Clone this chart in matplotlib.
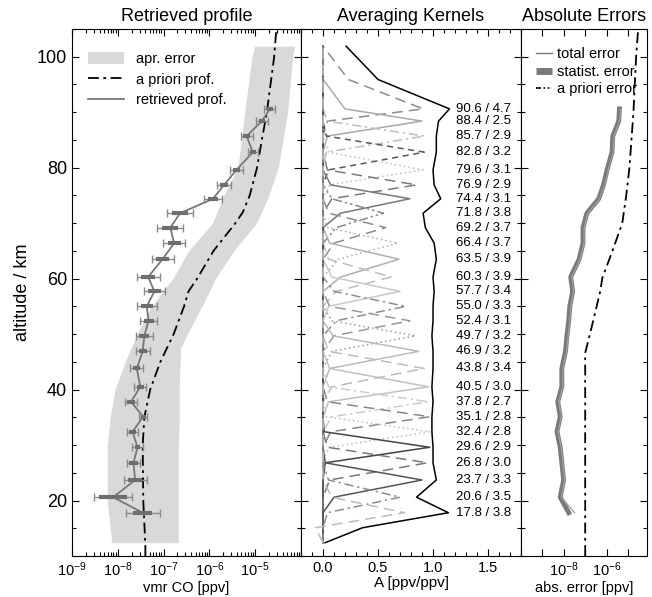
import numpy as np
import matplotlib
matplotlib.use("Agg")
import matplotlib.pyplot as plt
from matplotlib.patches import Patch
from matplotlib.lines import Line2D
from matplotlib.ticker import LogLocator, NullLocator, MultipleLocator, NullFormatter

plt.rcParams["font.family"] = ["Liberation Sans", "DejaVu Sans"]
plt.rcParams["mathtext.fontset"] = "custom"
plt.rcParams["mathtext.rm"] = "Liberation Sans"
plt.rcParams["mathtext.it"] = "Liberation Sans:italic"
plt.rcParams["mathtext.bf"] = "Liberation Sans:bold"

# ---- retrieval levels (top -> bottom) and vertical resolution
alt = [90.6, 88.4, 85.7, 82.8, 79.6, 76.9, 74.4, 71.8, 69.2, 66.4, 63.5, 60.3, 57.7, 55.0,
       52.4, 49.7, 46.9, 43.8, 40.5, 37.8, 35.1, 32.4, 29.6, 26.8, 23.7, 20.6, 17.8]
res = [4.7, 2.5, 2.9, 3.2, 3.1, 2.9, 3.1, 3.8, 3.7, 3.7, 3.9, 3.9, 3.4, 3.3,
       3.1, 3.2, 3.2, 3.4, 3.0, 2.7, 2.8, 2.8, 2.9, 3.0, 3.3, 3.5, 3.8]

# retrieved CO vmr [ppv]
ret_vmr = [2.1e-5, 1.4e-5, 6.5e-6, 8.9e-6, 3.9e-6, 2.1e-6, 1.2e-6, 2.3e-7, 1.4e-7, 1.7e-7,
           9.5e-8, 4.6e-8, 6.3e-8, 4.3e-8, 4.7e-8, 3.8e-8, 3.5e-8, 2.6e-8, 3.1e-8, 1.95e-8,
           3.6e-8, 2.1e-8, 2.7e-8, 2.2e-8, 2.4e-8, 7.9e-9, 3.5e-8]
# error bar half widths in decades (thin = total, thick = statistical)
bar_tot = [0.12, 0.13, 0.13, 0.11, 0.14, 0.16, 0.19, 0.29, 0.28, 0.24, 0.24, 0.25, 0.23, 0.22,
           0.18, 0.19, 0.15, 0.14, 0.13, 0.14, 0.09, 0.12, 0.11, 0.15, 0.25, 0.41, 0.37]
bar_stat = [0.06, 0.07, 0.07, 0.06, 0.08, 0.09, 0.11, 0.18, 0.17, 0.14, 0.14, 0.15, 0.14, 0.13,
            0.11, 0.11, 0.09, 0.08, 0.08, 0.08, 0.05, 0.07, 0.06, 0.09, 0.15, 0.30, 0.21]

# a priori profile
apr_alt = [10, 12, 20, 30, 35, 40, 45, 50, 55, 57.7, 60, 65, 70, 72, 75, 80, 85, 90, 100, 105]
apr_vmr = [4.0e-8, 4.0e-8, 3.6e-8, 3.5e-8, 3.8e-8, 5.1e-8, 8.5e-8, 1.66e-7, 2.8e-7, 3.5e-7,
           5.4e-7, 1.23e-6, 3.7e-6, 5.4e-6, 7.6e-6, 1.1e-5, 1.4e-5, 1.8e-5, 2.6e-5, 2.9e-5]

# a priori error band
band_alt = [12.4, 20, 30, 35, 40, 45, 47.5, 50, 55, 57.7, 60, 65, 70, 74.4, 80, 90, 100, 101.9]
band_lo = [7.4e-9, 5.9e-9, 5.9e-9, 6.8e-9, 8.7e-9, 1.45e-8, 1.95e-8, 2.6e-8, 5.5e-8, 9.5e-8,
           1.6e-7, 3.5e-7, 1.17e-6, 1.9e-6, 4.2e-6, 5.9e-6, 8.5e-6, 9.8e-6]
band_hi = [2.1e-7, 2.1e-7, 2.1e-7, 2.2e-7, 2.2e-7, 2.3e-7, 2.35e-7, 3.3e-7, 6.9e-7, 1.0e-6,
           1.35e-6, 3.4e-6, 1.07e-5, 1.86e-5, 3.2e-5, 5.1e-5, 6.6e-5, 7.2e-5]

# averaging kernel grid (bottom -> top) and measurement response (black line)
grid = [12.4, 15.1, 17.8, 20.6, 23.7, 26.8, 29.6, 32.4, 35.1, 37.8, 40.5, 43.8, 46.9, 49.7,
        52.4, 55.0, 57.7, 60.3, 63.5, 66.4, 69.2, 71.8, 74.4, 76.9, 79.6, 82.8, 85.7, 88.4,
        90.6, 95.9, 101.9]
response = [0.02, 0.36, 1.14, 0.85, 1.03, 1.00, 1.00, 0.99, 0.99, 1.00, 0.99, 1.00, 1.00, 0.99,
            1.00, 1.00, 1.01, 1.00, 1.03, 1.01, 0.93, 0.91, 1.07, 1.01, 1.00, 1.03, 1.03, 1.05,
            1.15, 0.50, 0.21]
# kernel values at own level, level above and level below (top -> bottom, as alt)
k_peak = [0.91, 0.90, 0.92, 0.92, 0.91, 0.85, 0.79, 0.55, 0.57, 0.68, 0.69, 0.62, 0.70, 0.75,
          0.79, 0.84, 0.87, 0.92, 0.96, 0.96, 0.97, 0.97, 0.97, 0.95, 0.90, 0.70, 0.74]
k_above = [0.23, 0.20, 0.04, 0.03, 0.05, 0.04, 0.07, 0.08, 0.05, 0.04, 0.06, 0.05, 0.08, 0.10,
           0.06, 0.08, 0.09, 0.05, 0.06, 0.05, 0.04, 0.03, 0.01, 0.04, 0.02, 0.05, 0.08]
k_below = [0.04, 0.04, 0.03, 0.05, 0.06, 0.08, 0.16, 0.12, 0.10, 0.14, 0.16, 0.12, 0.05, 0.12,
           0.10, 0.08, 0.06, 0.08, 0.05, 0.08, 0.07, 0.05, 0.02, 0.06, 0.10, 0.04, -0.07]

# absolute errors [ppv]
err_stat = [4.0e-6, 3.7e-6, 1.95e-6, 1.8e-6, 1.05e-6, 7.2e-7, 4.3e-7, 1.2e-7, 7.9e-8, 7.9e-8,
            5.2e-8, 2.1e-8, 2.6e-8, 1.9e-8, 1.7e-8, 1.4e-8, 1.2e-8, 8.1e-9, 8.1e-9, 5.2e-9,
            6.8e-9, 4.8e-9, 6.8e-9, 8.1e-9, 9.8e-9, 6.8e-9, 1.7e-8]
err_tot = [4.6e-6, 4.1e-6, 2.2e-6, 2.0e-6, 1.2e-6, 8.0e-7, 4.8e-7, 1.35e-7, 8.9e-8, 8.9e-8,
           5.8e-8, 2.35e-8, 2.9e-8, 2.1e-8, 1.9e-8, 1.6e-8, 1.35e-8, 9.1e-9, 9.1e-9, 5.8e-9,
           7.6e-9, 5.4e-9, 7.6e-9, 9.1e-9, 1.1e-8, 7.6e-9, 3.2e-8]
aerr_alt = [10, 46.6, 51.9, 57.8, 60.1, 64.8, 70, 75, 80, 90, 100, 105]
aerr_val = [1.0e-7, 1.0e-7, 2.2e-7, 5.1e-7, 6.3e-7, 1.8e-6, 5.4e-6, 8.3e-6, 1.17e-5, 1.8e-5,
            2.4e-5, 3.0e-5]

DASHDOT = (0, (6, 2.5, 1.5, 2.5))
STY = {"s": "-", "ld": (0, (7, 4)), "sd": (0, (4, 3)), "dd": (0, (6, 2.5, 1.5, 2.5)),
       "dt": (0, (1, 2)), "ddd": (0, (6, 2, 1.5, 2, 1.5, 2))}
k_ls = ["ld", "s", "dd", "sd", "dt", "ld", "s", "ddd", "ld", "dt", "s", "ld", "s", "dd",
        "ld", "dt", "s", "ld", "s", "dd", "ld", "dt", "s", "ld", "s", "dd", "ld"]
k_col = ["#8c8c8c", "#aaaaaa", "#bdbdbd", "#555555", "#bdbdbd", "#7a7a7a", "#777777", "#888888",
         "#8c8c8c", "#aaaaaa", "#b0b0b0", "#bdbdbd", "#c8c8c8", "#8c8c8c", "#999999", "#999999",
         "#bbbbbb", "#bbbbbb", "#c0c0c0", "#cccccc", "#888888", "#bbbbbb", "#444444", "#7a7a7a",
         "#555555", "#8c8c8c", "#bbbbbb"]

fig = plt.figure(figsize=(6.52, 5.97), dpi=100)
ax1 = fig.add_axes([0.1104, 0.0687, 0.3512, 0.8827])
ax2 = fig.add_axes([0.4617, 0.0687, 0.3374, 0.8827])
ax3 = fig.add_axes([0.7991, 0.0687, 0.1937, 0.8827])

for ax in (ax1, ax2, ax3):
    ax.set_ylim(10, 105)
    ax.set_yticks([20, 40, 60, 80, 100])
    ax.yaxis.set_minor_locator(MultipleLocator(5))
    ax.tick_params(which="both", direction="in", top=True, right=True, width=0.8)
    ax.tick_params(which="major", length=5)
    ax.tick_params(which="minor", length=3)
    ax.tick_params(axis="x", labelsize=10.5)

# ---- retrieved profile
ret = np.array(ret_vmr)
ax1.fill_betweenx(band_alt, band_lo, band_hi, color="#d9d9d9", lw=0)
ax1.plot(apr_vmr, apr_alt, color="black", ls=DASHDOT, lw=1.3)
ax1.plot(ret, alt, color="#777777", lw=1.3)
t = np.array(bar_tot)
s = np.array(bar_stat)
ax1.errorbar(ret, alt, xerr=[ret - ret / 10 ** t, ret * 10 ** t - ret], fmt="none",
             ecolor="#8a8a8a", elinewidth=1, capsize=3, capthick=1)
ax1.errorbar(ret, alt, xerr=[ret - ret / 10 ** s, ret * 10 ** s - ret], fmt="none",
             ecolor="#6e6e6e", elinewidth=3, capsize=0)
ax1.set_xscale("log")
ax1.set_xlim(1e-9, 1e-4)
ax1.set_xticks([1e-9, 1e-8, 1e-7, 1e-6, 1e-5, 1e-4])
ax1.set_xticklabels(["$10^{-9}$", "$10^{-8}$", "$10^{-7}$", "$10^{-6}$", "$10^{-5}$", ""])
ax1.xaxis.set_minor_locator(LogLocator(base=10, subs=np.arange(2, 10)))
ax1.xaxis.set_minor_formatter(NullFormatter())
ax1.tick_params(axis="y", labelsize=13)
ax1.set_xlabel("vmr CO [ppv]", fontsize=10.5, labelpad=1)
ax1.set_ylabel("altitude / km", fontsize=13)
ax1.set_title("Retrieved profile", fontsize=13, pad=6)
ax1.legend([Patch(facecolor="#d9d9d9", edgecolor="none"),
            Line2D([], [], color="black", ls=DASHDOT, lw=1.3),
            Line2D([], [], color="#777777", lw=1.3)],
           ["apr. error", "a priori prof.", "retrieved prof."],
           loc="upper left", bbox_to_anchor=(0.025, 0.976), frameon=False, fontsize=10.5,
           handlelength=2.5, handleheight=0.9, labelspacing=0.45, borderaxespad=0.3)

# ---- averaging kernels
for i, a in enumerate(alt):
    row = np.zeros(len(grid))
    j = grid.index(a)
    row[j] = k_peak[i]
    row[j + 1] = k_above[i]
    row[j - 1] = k_below[i]
    ax2.plot(row, grid, ls=STY[k_ls[i]], color=k_col[i], lw=1.1)
ax2.plot(response, grid, color="black", lw=1.1)
for a, r in zip(alt, res):
    ax2.text(1.21, a, f"{a:.1f} / {r:.1f}", fontsize=9.5, va="center", ha="left")
ax2.set_xlim(-0.2, 1.8)
ax2.set_xticks([0.0, 0.5, 1.0, 1.5])
ax2.set_xticklabels(["0.0", "0.5", "1.0", "1.5"])
ax2.xaxis.set_minor_locator(MultipleLocator(0.1))
ax2.tick_params(axis="y", labelleft=False)
ax2.set_xlabel("A [ppv/ppv]", fontsize=11, labelpad=1)
ax2.set_title("Averaging Kernels", fontsize=13, pad=6)

# ---- absolute errors
ax3.plot(err_stat, alt, color="#7a7a7a", lw=3.5)
ax3.plot(err_tot, alt, color="#a0a0a0", lw=0.9)
ax3.plot(aerr_val, aerr_alt, color="black", ls=DASHDOT, lw=1.3)
ax3.set_xscale("log")
ax3.set_xlim(1e-10, 8e-5)
ax3.set_xticks([1e-10, 1e-9, 1e-8, 1e-7, 1e-6, 1e-5])
ax3.set_xticklabels(["", "", "$10^{-8}$", "", "$10^{-6}$", ""])
ax3.xaxis.set_minor_locator(NullLocator())
ax3.tick_params(axis="y", labelleft=False)
ax3.set_xlabel("abs. error [ppv]", fontsize=10.5, labelpad=1)
ax3.set_title("Absolute Errors", fontsize=13, pad=6)
ax3.legend([Line2D([], [], color="#7a7a7a", lw=1),
            Line2D([], [], color="#7a7a7a", lw=5, solid_capstyle="butt"),
            Line2D([], [], color="black", ls=(0, (3, 1.5, 1, 1.5, 1, 1.5)), lw=1.2)],
           ["total error", "statist. error", "a priori error"],
           loc="upper left", bbox_to_anchor=(0.04, 0.985), frameon=False, fontsize=10.5,
           handlelength=1.1, handletextpad=0.3, labelspacing=0.25, borderaxespad=0.3)

fig.savefig("out.png", dpi=100)
